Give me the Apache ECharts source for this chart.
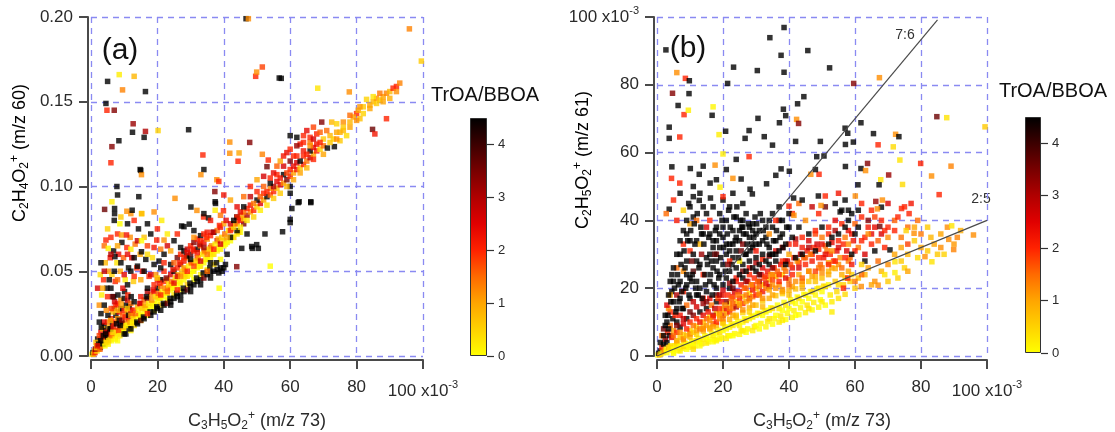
<!DOCTYPE html>
<html>
<head>
<meta charset="utf-8">
<title>TrOA/BBOA scatter</title>
<script src="https://cdn.jsdelivr.net/npm/echarts@6.0.0/dist/echarts.min.js"></script>
<style>
  html, body { margin: 0; padding: 0; background: #fff; }
  #chart { width: 1115px; height: 432px; }
</style>
</head>
<body>
<div id="chart"></div>
<script>
// points are [x (x10^-3), y, TrOA/BBOA]
// panel (a): C2H4O2+ vs C3H5O2+
const aOrigin = [
  [0.3,0.001,0.2],[0.6,0.002,4.5],[0.8,0.001,1],[1,0.003,0.1],[1.2,0.002,2],[1.5,0.004,4.5],[1.8,0.003,0.5],[2,0.005,1.5],
  [2.2,0.004,0],[2.5,0.006,3],[2.8,0.005,4.5],[3,0.008,1],[3.2,0.006,0.2],[3.5,0.009,2.2],[3.8,0.007,4.5],[4,0.010,0.8],
  [4.2,0.006,0],[4.5,0.012,2],[4.8,0.008,1.2],[5,0.011,4.5],[5.2,0.007,0.1],[5.5,0.014,3],[5.8,0.010,0.6],[6,0.013,1.8],
  [6.2,0.009,0],[2,0.010,4.5],[3,0.014,2.5],[4,0.018,4.5],[5,0.020,1.5],[6,0.022,2.2],[3.5,0.016,1],[4.5,0.015,4.5],
  [5.5,0.017,0.9],[6.5,0.019,4.5],[2.5,0.012,1.8],[1.5,0.008,0.7],
  [7,0.012,0],[7.5,0.015,1],[8,0.013,0.3],[8.5,0.017,2],[9,0.015,0.1],[9.5,0.019,4.5],[10,0.016,0.5],[10.5,0.020,1.4],
  [11,0.018,0],[11.5,0.022,2.6],[12,0.019,0.4],[7,0.020,2],[7.5,0.024,4.5],[8,0.022,1.2],[8.5,0.026,2.2],[9,0.028,4.5],
  [9.5,0.024,1.6],[10,0.027,2],[10.5,0.030,4.5],[11,0.026,1],[11.5,0.029,4.5],[12,0.027,2.4],[7,0.028,3.4],[8,0.031,2],
  [9,0.033,1.2],[10,0.034,4.5],[11,0.033,2.8],[12,0.031,1.5],[6.5,0.026,0.8],[7.5,0.030,2],[8.5,0.021,4.5],[9.5,0.014,0],
  [10.5,0.013,4.5],[11.5,0.016,4.5],[12,0.015,0.2],[6,0.016,4.5],[8,0.009,0]
];
const aOriginFill = [
  [1.3,0.004,3],[1.7,0.005,0.6],[2.3,0.007,4.5],[2.7,0.004,1.6],[3.3,0.011,2],[3.7,0.012,4.5],[4.3,0.008,0.3],
  [4.7,0.014,2.8],[5.3,0.009,0.5],[5.7,0.016,4.5],[6.3,0.012,1.4],[6.7,0.017,2.2],[7.3,0.010,0.1],[7.7,0.019,4.5],
  [8.3,0.015,1.8],[8.7,0.012,0.3],[9.3,0.021,3.4],[9.7,0.017,0.8],[10.3,0.023,2],[10.7,0.018,0.2],[11.3,0.024,4.5],
  [11.7,0.020,1],[3.9,0.020,2.5],[5.1,0.024,4.5],[6.1,0.028,1.8],[7.1,0.032,2.6],[8.1,0.036,4.5],[9.1,0.030,1],
  [10.1,0.038,4.5],[11.1,0.036,2],[12.1,0.035,4.5],[4.6,0.027,1.2],[6.8,0.035,4.5],[9.6,0.040,2.4],[7.9,0.027,0.8],
  [5.9,0.021,1],[3.1,0.017,4.5],[10.9,0.028,0.6],[12.4,0.024,2.2],[8.8,0.018,4.5],[6.6,0.014,0.4],[2.9,0.009,4.5],
  [1.9,0.006,2.4],[4.4,0.013,4.5]
];
const aSpray = [
  [2.5,0.030,1.2],[3.2,0.036,0.2],[3.8,0.045,2],[4.3,0.055,0.8],[4.8,0.040,4.5],[5.3,0.050,1.2],[5.8,0.058,2.2],
  [6.3,0.048,0.5],[6.8,0.062,4.5],[7.3,0.044,2],[7.8,0.055,0.3],[8.3,0.060,2.4],[8.8,0.050,1],[9.3,0.067,4.5],
  [9.8,0.058,1.6],[10.3,0.045,0.2],[10.8,0.064,2],[11.3,0.052,4.5],[11.8,0.070,1.2],[12.3,0.058,2.6],[12.8,0.044,0.6],
  [13.3,0.066,1.4],[13.8,0.052,2],[14.3,0.075,4.5],[14.8,0.060,1],[15.5,0.050,2.4],[16,0.070,0.7],[16.5,0.057,4.5],
  [17,0.065,1.8],[17.5,0.047,2],[18,0.072,4.5],[18.5,0.058,0.4],[19,0.064,2.2],[19.5,0.048,1.2],[20,0.075,2],
  [20.5,0.056,4.5],[21,0.063,1.4],[22,0.060,4.5],[23,0.065,2.6],[24,0.062,1],[25,0.068,4.5],[26,0.072,2],[3,0.055,4.5],
  [4,0.065,1.5],[5,0.075,0.5],[6,0.070,2],[7,0.080,4.5],[9,0.082,0.6],[11,0.078,4.5],[13,0.080,2],[17,0.078,4.5],
  [19,0.085,1.2],[23,0.072,0.2],[2,0.040,2.6],[2.8,0.048,0.4],[12,0.063,0.2],[14,0.068,2.8],[8,0.072,2]
];
const aYellowBand = [
  [12.5,0.020,0],[13,0.021,0.2],[14,0.023,0],[15,0.024,0.1],[16,0.026,0],[17,0.027,0.3],[18,0.029,0],[19,0.031,0.2],
  [20,0.032,0],[21,0.034,0.1],[22,0.035,0],[23,0.037,0.3],[24,0.039,0],[25,0.040,0.2],[26,0.042,0],[27,0.043,0.1],
  [28,0.045,0],[29,0.047,0.3],[30,0.048,0],[31,0.050,0.2],[32,0.052,0],[33,0.053,0.5],[34,0.055,0],[35,0.057,0.2],
  [36,0.058,0],[37,0.060,0.4],[38,0.062,0],[39,0.063,0.2],[40,0.065,0.1],[41,0.067,0.3],[42,0.068,0],[43,0.070,0.6],
  [44,0.072,0.2],[45,0.073,0],
  [13,0.018,0.4],[15,0.021,0],[17,0.024,0.2],[19,0.027,0],[21,0.030,0.5],[23,0.033,0],[25,0.036,0.3],[27,0.039,0],
  [29,0.042,0.6],[31,0.045,0],[33,0.048,0.2],[35,0.051,0],[37,0.054,0.4],[39,0.057,0],[16,0.029,0.7],[20,0.035,0.8],
  [24,0.042,0.6],[28,0.048,0.9],[32,0.055,0.7],[36,0.061,0.8],[40,0.068,0.6],
  [14.5,0.024,0],[18.5,0.030,0.1],[22.5,0.037,0],[26.5,0.044,0.1],[30.5,0.050,0],[34.5,0.057,0.1],[38.5,0.064,0],
  [42.5,0.070,0.2],[16.5,0.028,0.3],[20.5,0.034,0.2],[24.5,0.041,0],[28.5,0.047,0.3],[32.5,0.053,0.1],[36.5,0.060,0.2],
  [40.5,0.066,0],[44.5,0.073,0.4]
];
const aBandFill = [
  [12.7,0.022,0.4],[13.4,0.025,1.5],[13.8,0.020,4.5],[14.3,0.027,0.2],[14.7,0.031,2.6],[15.4,0.028,0.6],[15.8,0.023,4.5],
  [16.3,0.030,1],[16.7,0.035,4.5],[17.4,0.031,0.3],[17.8,0.026,4.5],[18.3,0.033,1.2],[18.7,0.039,2.4],[19.4,0.035,0.5],
  [19.8,0.029,4.5],[20.3,0.037,1.5],[20.7,0.043,2],[21.4,0.038,0.2],[21.8,0.031,4.5],[22.3,0.040,1.2],[22.7,0.046,3.4],
  [23.4,0.042,0.4],[23.8,0.034,4.5],[24.3,0.044,1.4],[24.7,0.051,2.2],[25.4,0.046,0.3],[25.8,0.037,4.5],[26.3,0.048,1],
  [26.7,0.055,2],[27.4,0.050,0.6],[27.8,0.040,4.5],[28.3,0.051,1.2],[28.7,0.059,4.5],[29.4,0.053,0.2],[29.8,0.043,4.5],
  [30.3,0.055,1.5],[30.7,0.063,2.2],[31.4,0.056,0.4],[31.8,0.046,4.5],[32.3,0.058,1],[32.7,0.066,3],[33.4,0.060,0.3],
  [33.8,0.049,4.5],[34.3,0.062,1.4],[34.7,0.070,2],[35.4,0.063,0.5],[35.8,0.052,4.5],[36.3,0.065,1.2],[36.7,0.073,2.6],
  [37.4,0.066,0.2],[37.8,0.055,4.5],[38.3,0.069,1],[38.7,0.077,2],[39.4,0.070,0.6],[40.3,0.072,1.5],[40.7,0.080,2.4],
  [41.4,0.074,0.3],[42.3,0.075,1.2],[43.4,0.078,0.7],[44.3,0.081,2],[45.4,0.083,1.2],
  [20,0.045,2.2],[22,0.050,2],[24,0.054,4.5],[26,0.047,2.6],[28,0.058,2],[30,0.057,4.5],[32,0.061,2.2],[34,0.064,3.2],
  [25,0.055,1.6],[29,0.061,2.4],[33,0.068,2],[27,0.064,4.5],[31,0.070,1.2],[35,0.073,2.2],[21,0.036,2],[23,0.038,1.6],
  [25,0.043,2.4],[27,0.047,1.2],[29,0.050,2],[31,0.053,1.8],[33,0.056,2.6],[35,0.060,1.4],[37,0.063,2],[39,0.066,2.6]
];
const aUpperBand = [
  [12,0.024,1.2],[13,0.027,2],[14,0.029,1],[15,0.031,2.4],[16,0.033,1.5],[17,0.034,3.5],[18,0.036,1.2],[19,0.038,2.2],
  [20,0.040,4.5],[21,0.041,1.4],[22,0.044,2],[23,0.045,1],[24,0.048,2.6],[25,0.050,4.5],[26,0.052,2],[27,0.054,3.2],
  [28,0.056,2.2],[29,0.058,1.3],[30,0.060,3.8],[31,0.062,2],[32,0.063,4.5],[33,0.065,1.6],[34,0.067,2.4],[35,0.069,1.2],
  [36,0.071,2],[37,0.073,4.5],[38,0.074,1.5],[39,0.076,2.2],[40,0.078,1],
  [26,0.058,3.6],[27,0.060,2],[28,0.062,4.5],[29,0.063,2.8],[30,0.065,2],[31,0.067,3.4],[32,0.069,2.2],[33,0.071,4.5],
  [34,0.072,2],[28,0.052,1],[30,0.055,1.6],[32,0.058,2],[34,0.061,1.2],[36,0.064,1.8],[38,0.068,2.5],[13,0.032,4.5],
  [15,0.035,2.2],[17,0.038,3],[19,0.042,2],[21,0.045,4.5],[23,0.040,1.8]
];
const aLowerBlack = [
  [10,0.013,4.5],[12,0.016,4.5],[14,0.019,4.5],[15,0.021,3.8],[16,0.022,4.5],[18,0.024,4.5],[19,0.026,4.5],[20,0.028,4.5],
  [21,0.027,4.5],[22,0.030,4.5],[23,0.031,3.6],[24,0.032,4.5],[25,0.034,4.5],[26,0.035,4.5],[27,0.036,4.5],[28,0.038,4.5],
  [29,0.039,3.8],[30,0.041,4.5],[31,0.042,4.5],[32,0.044,4.5],[33,0.045,4.5],[34,0.046,3.5],[35,0.048,4.5],[36,0.049,4.5],
  [37,0.050,4.5],[38,0.051,4.5],[39,0.052,4.5],[40,0.052,4.5],[38.5,0.049,4.5],[39.5,0.050,4.5],[40.5,0.054,4.5],
  [36,0.046,4.5],[33,0.042,4.5],[30,0.038,4.5],[27,0.033,4.5],[24,0.030,4.5],[17,0.025,2],[26,0.039,2],[35,0.050,1.5],
  [43.9,0.0527,3.4],[38.6,0.040,0],[54,0.053,0]
];
const aScatterLeft = [
  [3,0.025,4.5],[4,0.030,4.5],[5,0.035,2],[5.5,0.045,4.5],[6,0.040,4.5],[7,0.050,4.5],[7.2,0.0586,4.5],[8,0.045,1.5],
  [9,0.055,4.5],[10,0.048,2.5],[11,0.042,4.5],[12,0.050,4.5],[13,0.047,2],[14,0.053,4.5],[15,0.045,1],[16,0.050,4.5],
  [17,0.040,4.5],[18,0.048,2.6],[19,0.054,4.5],[20,0.046,0.5],[21,0.052,4.5],[22,0.055,2],[4.5,0.0684,2],[5.2,0.0635,0.1],
  [9.2,0.0714,1],[10.7,0.0714,2.2],[8.7,0.078,0],[15.2,0.0615,4.5],[15.2,0.068,0],[19.8,0.0684,2],[22,0.0684,1.2],
  [21.3,0.080,0.2],[15.2,0.084,0.3],[12,0.084,1.2],[6,0.060,3],[8,0.065,1],[11,0.060,2.4],[13,0.058,4.5],[17,0.060,0.4],
  [3.5,0.040,1],[4,0.050,2.8],[6.5,0.035,3.6],[2.5,0.020,4.5],
  [5,0.162,4.5],[8.5,0.166,0.2],[13,0.165,0.8],[9.5,0.157,1.3],[16.4,0.156,4.5],[4.5,0.149,4.5],[4.8,0.145,2],
  [7,0.145,3.4],[12.7,0.137,3.2],[12.5,0.132,4.5],[16.4,0.1325,3],[16,0.129,4.5],[20.2,0.133,0.5],[29.4,0.1335,4.5],
  [8.4,0.127,4.5],[6.3,0.1235,3.4],[6,0.114,2],[15,0.1095,4.5],[15.2,0.107,1.2],[7.8,0.100,4.5],[8,0.095,4.5],
  [6.3,0.091,0.2],[14.4,0.094,4.5],[4.1,0.0865,3.6],[7.1,0.087,4.5],[7.1,0.084,4.5],[10.8,0.0854,1.2],[12.4,0.086,4.5],
  [15.3,0.084,0.8],[14.8,0.110,4.5]
];
const aMidBand = [
  [27.3,0.0767,4.5],[29.6,0.0778,4.5],[31,0.074,4.5],[28,0.0763,4.5],[33.9,0.082,2],[35.4,0.0815,4.5],[37.4,0.086,0.2],
  [39.9,0.0857,2],[37.5,0.09,4.5],[37.9,0.104,1.2],[38.5,0.103,2],[43.9,0.082,4.5],[45.4,0.0635,4.5],[48.6,0.0635,4.5],
  [50.4,0.0635,4.5],[48.4,0.0646,4.5],[49.9,0.0657,4.5],[52.4,0.072,4.5],[57.7,0.0733,4.5],[60,0.0806,4.5],[60,0.0787,4.5],
  [62.4,0.0905,4.5],[66.2,0.0905,4.5],[60.5,0.087,4.5],[60,0.096,4.5],[60,0.100,4.5],[42,0.070,4.5],[44,0.074,4.5],
  [46,0.078,3.5],[47,0.072,4.5],[41,0.060,4.5],[36,0.055,4.5],
  [41,0.070,1],[42,0.074,2],[43,0.076,0.5],[44,0.078,1.5],[45,0.080,2.2],[46,0.081,0.8],[47,0.083,3],[48,0.085,1.2],
  [49,0.086,2],[50,0.088,0.4],[51,0.090,2.5],[52,0.092,1],[53,0.094,4.5],[54,0.095,1.6],[55,0.097,2],[56,0.099,0.7],
  [57,0.101,2.4],[58,0.102,1.2],[59,0.104,3.5],[60,0.106,2],[61,0.108,1],[62,0.110,2.2],[63,0.111,0.6],[64,0.113,2],
  [65,0.115,1.4],[66,0.117,2.8],[67,0.119,1],[68,0.121,2],[69,0.122,0.5],[70,0.124,1.5],
  [42,0.078,2.6],[44,0.082,2],[46,0.085,1.4],[48,0.089,2.2],[50,0.092,4.5],[52,0.096,2],[54,0.099,1.2],[56,0.103,2.4],
  [58,0.107,4.5],[60,0.110,2],[62,0.114,2.6],[64,0.118,2],[66,0.121,4.5],[68,0.125,2.2],[45,0.076,0.2],[49,0.082,0.5],
  [53,0.089,0.3],[57,0.096,0.6],[61,0.104,1],[65,0.111,0.8],[43,0.080,4.5],[47,0.087,2],[51,0.094,1.6],[55,0.100,3],
  [59,0.108,1.8],[63,0.115,4.5],[67,0.116,2],
  [45,0.085,2.4],[47,0.080,0.3],[49,0.090,1.4],[51,0.086,0.2],[53,0.097,2],[55,0.093,0.6],[57,0.105,2.2],[59,0.100,0.8],
  [61,0.112,2.4],[63,0.108,1],[65,0.119,2],[67,0.123,2.4],[46,0.088,4.5],[50,0.097,2],[54,0.102,4.5],[58,0.112,2.6],
  [62,0.118,2],[48,0.094,2.8],[52,0.100,1.6],[56,0.107,2],[60,0.115,3.4],[64,0.121,2.2],[66,0.126,1.4],
  [33.7,0.1186,2],[37.3,0.097,3.4],[37.4,0.091,4.5],[41.8,0.1262,1.2],[41.8,0.1196,1.2],[44.3,0.1149,2],[44.6,0.1198,1],
  [47.8,0.126,3.4],[51.6,0.119,1.3],[53,0.1117,3.6],[53.4,0.1156,2],[34,0.110,4.5],[33.1,0.107,1.2],[25.3,0.093,1.2],
  [30.1,0.0879,4.5],[31.9,0.0859,1.2],[34,0.084,4.5],[40,0.095,2.2],[42,0.092,1],[44,0.088,2.4],[46,0.094,1.5],
  [48,0.100,2],[50,0.104,1],[52,0.106,2.6],[55,0.108,2.4],[39,0.083,1.4],[36,0.080,2.2]
];
const aUpperRight = [
  [71.2,0.1227,4.5],[73.3,0.1235,4.5],[72,0.130,0.8],[73,0.128,0.5],[74,0.132,1],[75,0.127,0.6],[76,0.133,0.8],
  [77,0.130,0.4],[78,0.135,1],[72.5,0.138,0.8],[69.5,0.138,3.4],[64,0.130,2],[65,0.133,2.4],[66,0.129,2],[67,0.135,1.8],
  [60,0.130,4.5],[62,0.129,4.5],[80,0.143,2],[80.5,0.145,1],[83,0.1514,0.5],[84,0.148,1],[85,0.150,0.8],[86,0.152,1.2],
  [87,0.151,0.6],[88,0.153,1],[89,0.155,1.3],[90,0.156,0.8],[91,0.158,2],[92,0.159,2],[82,0.147,0.6],[79,0.141,1],
  [81,0.140,0.7],[76,0.138,1.2],[74,0.137,0.5],[89,0.140,2],[84.8,0.1337,3.6],[85.5,0.131,2.2],[70,0.128,0.6],
  [71,0.133,1.5],[63,0.125,2.2],[61,0.118,2],[66,0.124,1.2],[62.7,0.091,4.5],[66.2,0.091,4.5],[57,0.115,1],
  [59,0.120,2.4],[54,0.105,2],[56,0.112,1.6],[58,0.118,2.2],[60,0.122,2],[62,0.124,3.2],[64,0.126,2],[67,0.128,2.6],
  [68,0.131,2],[69,0.132,1.6],
  [69,0.126,2],[70,0.119,1],[72,0.126,0.6],[74,0.128,1.2],[76,0.135,0.6],[78,0.138,0.8],[80,0.139,1.2],[82,0.143,0.5],
  [84,0.146,1],[86,0.149,0.6],[88,0.150,1],[90,0.152,0.9],[92,0.156,1.2],[93,0.161,1.3],[87,0.155,1.4],[85,0.153,0.3],
  [81,0.147,1.1],[78,0.142,1.5],[75,0.132,0.9]
];
const aOutliers = [
  [46.7,0.199,4.5],[47.4,0.199,1.2],[49.6,0.165,2],[49.9,0.1675,1.2],[51.6,0.1705,1.8],[56.7,0.164,4.5],
  [57.3,0.1638,4.5],[68.3,0.158,0.3],[77.8,0.1558,1.2],[95.9,0.193,1.3],[99.5,0.174,0.6]
];

// panel (b): C2H5O2+ vs C3H5O2+ (both x10^-3)
const bOrigin = [
  [0.3,0.3,0],[0.5,0.8,4.5],[0.8,0.4,1],[1,1.5,4.5],[1.2,0.6,0.2],[1.5,2.5,2],[1.8,1,0.5],[2,3.5,4.5],[2.2,1.5,1.2],
  [2.5,5,3],[2.8,2,0],[3,4,4.5],[3.2,7,2],[3.5,2.5,0.8],[3.8,6,4.5],[4,9,1.5],[4.2,3,0.3],[4.5,5.5,2.4],[4.8,11,4.5],
  [5,7.5,1],[1,4,4.5],[2,8,3.6],[3,10,4.5],[4,13,2],[5,16,4.5],[3.5,14,1.2],[2.5,12,4.5],[1.5,6,1.5],[4.5,19,4.5],
  [5.5,12,2],[6,18,3],[4,18,1],[3,15,2.5]
];
const bYellow = [
  [3,1,0],[4,1.8,0.1],[5,1.2,0],[5.5,3,0.3],[6.5,1.6,0],[7.5,2.2,0.1],[8.5,3.8,0],[9.5,2.6,0.2],[10.5,4.4,0],[11.5,3,0.1],
  [12.5,5.2,0],[13.5,3.6,0.3],[14.5,6,0],[15.5,4.2,0.1],[16.5,6.8,0],[17.5,4.8,0.2],[18.5,7.6,0],[19.5,5.4,0.1],
  [20.5,8.6,0],[21.5,6,0.3],[22.5,9.4,0],[23.5,6.6,0.1],[24.5,10.2,0],[25.5,7.4,0.2],[26.5,11,0],[27.5,8,0.1],
  [28.5,11.8,0],[29.5,8.6,0.3],[30.5,12.6,0],[31.5,9.6,0.1],[32.5,13.4,0],[33.5,10.2,0.2],[34.5,14.2,0],[35.5,11,0.1],
  [36.5,15,0],[37.5,11.8,0.3],[38.5,15.8,0],[39.5,12.6,0.1],[40.5,16.6,0],[41.5,13.4,0.2],[42.5,17.4,0],[43.5,14.2,0.1],
  [44.5,18.2,0],[45.5,15,0.3],[46.5,19,0],[47.5,15.8,0.2],[48.5,19.8,0.1],[49.5,16.6,0],[50.5,20.6,0.3],[52.5,18,0.2],
  [54.5,19,0.4],[56.5,21,0.5],[58.5,22,0.6],[61,23,0.7],[63,24,0.8],[60,20,0.6],
  [6,3.8,0.7],[8,4.6,0.6],[10,5.6,0.8],[12,6.4,0.5],[14,7.4,0.9],[16,8.4,0.6],[18,9,0.8],[20,9.6,0.6],[22,10.8,0.9],
  [24,12,0.7],[26,12.8,0.5],[28,14.2,0.9],[30,15,0.7],[32,16.2,0.6],[34,17,0.9],[36,17.8,0.7],[38,18.4,0.5],[40,19.4,0.9],
  [42,19.8,0.7],[44,21.2,0.8],[46,22,0.6],[48,23.4,0.9],[50,23,0.7],[52,25,0.8],[54,25.8,1],[56,24,0.9],
  [5,0.8,0],[7,1.5,0.2],[9,2,0],[11,2.8,0.1],[13,3,0],[15,3.8,0.2],[17,4.2,0],[19,5,0.1],[21,5.2,0.2],[23,6,0],
  [25,6.4,0.1],[27,7,0],[29,7.5,0.2],[31,8,0],[33,8.6,0.1],[35,9.4,0],[37,10,0.2],[39,10.8,0],[41,11.4,0.1],[43,12.2,0],
  [45,12.8,0.2],[47,13.6,0],[49,14.4,0.1],[51,15,0],[53,16,0.2],[55,17,0.3],[57,18.2,0.4],[4,2.6,0.4],[6,4,0.3],
  [8,6.3,0.5],[10,7.5,0.4],[12,8.8,0.5],[14,10,0.6],[16,11.5,0.4],[18,12.5,0.6],[20,13.6,0.5],[22,15.5,0.6],[24,16,0.5],
  [26,17.5,0.6],[28,18.5,0.4],[30,20,0.6],[32,21,0.5],[34,22.5,0.6],[36,23.5,0.5],[38,24,0.4]
];
const bLow = [
  [5,2,0],[6,2.5,0.2],[7,3,0],[8,2.8,0.4],[9,3.5,0],[10,3.2,0.1],[11,4,0],[12,4.5,0.3],[13,4.2,0],[14,5,0.2],[15,5.5,0],
  [6,4.5,1],[7,5.5,0.6],[8,5,1.3],[9,6,0.8],[10,6.5,1.2],[11,7,0.6],[12,7.5,1],[13,8,1.4],[14,8.5,0.9],[15,9,1.1],
  [6,7,2],[7,8.5,4.5],[8,9.5,2.5],[9,11,4.5],[10,10,2],[11,12,3.4],[12,11,2],[13,13,4.5],[14,12,2.4],[15,14,4.5],
  [6,10,4.5],[7,12,2.2],[8,14,4.5],[9,15,1.5],[10,17,4.5],[11,16,2.8],[12,18,4.5],[13,20,4.5],[14,17,2],[15,19,4.5],
  [6,14,4.5],[7,17,4.5],[8,19,2],[9,21,4.5],[10,23,4.5],[11,25,3.8],[12,22,4.5],[13,27,4.5],[14,24,2],[15,29,4.5],
  [7,22,4.5],[8,25,1.2],[9,28,4.5],[10,31,2],[11,30,4.5],[12,34,4.5],[13,33,0.8],[14,36,4.5],[15,38,2.6],[5,22,4.5],
  [6,26,1.5],[7,30,4.5],[8,33,2],[9,36,4.5],[10,39,1],[11,41,4.5]
];
const bBand = [
  [16,5,0],[17,6,0.2],[18,6.5,0],[19,7,0.4],[20,7.5,0],[21,8,0.1],[22,8.5,0],[23,9,0.3],[24,9.5,0],[25,9,0.2],[26,10,0],
  [27,10.5,0.5],[28,11,0],[29,11.5,0.2],[30,12,0],[31,12.5,0.3],[32,12,0],[33,13,0.1],[34,13.5,0],[35,14,0.4],
  [18,4.5,0.1],[22,6,0],[26,7.5,0.2],[30,9,0],[34,11,0.3],[20,10,0.6],[24,11.5,0.7],[28,13,0.5],[32,14.5,0.8],[11,2,0.4],
  [16,8,1],[17,9.5,1.6],[18,10,2],[19,11,1.2],[20,12,2.4],[21,12.5,1],[22,13,2],[23,14,1.5],[24,14.5,3],[25,15,1.2],
  [26,15.5,2],[27,16,1],[28,17,2.6],[29,17.5,1.4],[30,18,2],[31,18.5,1],[32,19,2.2],[33,20,1.5],[34,20.5,2.8],[35,21,1.2],
  [17,12,2.8],[19,14,2],[21,16,3.4],[23,17.5,2],[25,19,2.4],[27,20,1.6],[29,21,2],[31,22,3],[33,23.5,2],[35,24,1.4],
  [18,16,4.5],[20,18,2],[22,20,4.5],[24,22,2.2],[26,23,4.5],[28,24,2],[30,25,4.5],[32,26,2.6],[34,27,4.5]
];
const bRedLayer = [
  [5,6,1.5],[7,7,1.2],[9,8,2],[11,9,1.4],[13,10,2.2],[15,11,1.6],[17,11.5,2],[19,12.5,1.3],[21,14,2.4],[23,15.5,1.6],
  [25,17,2],[27,18,1.4],[29,19.5,2.2],[31,20.5,1.6],[33,21.5,2.4],[35,22.5,1.8],[37,24,2],[39,25,1.5],[41,26,2.4],
  [43,27.5,2],[45,29,1.6],[47,30,2.2],[49,31.5,2],[51,32.5,1.6],[53,33.5,2.4],[55,34,2],[57,35,1.4],[59,36,2.2],
  [6,9,3.4],[8,11,2.8],[10,13,3.6],[12,14.5,2.6],[14,15.5,3.2],[16,17,2.4],[18,18,3.8],[20,19.5,2.6],[22,21.5,3.2],
  [24,23,2.2],[26,25,3.6],[28,26,2.4],[30,27.5,3],[32,28.5,2],[34,29.5,3.4],[36,31,2.4],[38,32,2.8],[40,33,2],[42,34.5,3],
  [44,32,2.2],[46,34,2.6],[48,36,1.8],[50,33,2.4],[52,36,2],[54,37,3],[56,39,2],[58,37,2.4],[60,39,1.6],[62,41,2],
  [64,38,2.2],[66,41,1.8],[68,36,2.6],[70,38,2],[72,40,1.6],[74,35,1.4],[76,33,1.8],[78,38,1],[80,36,1.4],[83,35,0.8],
  [86,36,1],[88,38,1.2],[92,37,0.9],
  [15.5,13,2.2],[16.5,15,1.4],[17.5,14,2.8],[18.5,17,1.8],[19.5,16,2.4],[20.5,15,1.2],[21.5,18,2],[22.5,17,1.6],
  [23.5,19,2.6],[24.5,18,1.4],[25.5,21,2.2],[26.5,20,1.6],[27.5,22,2.4],[28.5,21,1.2],[29.5,23,2],[30.5,22,1.6],
  [31.5,24,2.6],[32.5,23,1.8],[33.5,25,2.2],[34.5,24,1.2],[35.5,26,2],[36.5,25,1.6],[37.5,27,2.4],[38.5,26,1.4],
  [39.5,28,2.2],[40.5,27,1.8],[41.5,29,2],[42.5,28,1.2],[43.5,30,2.6],[44.5,29,1.6],[45.5,31,2.2],[46.5,30,1.4],
  [47.5,32,2],[48.5,33,2.6],[49.5,27,1.6],[50.5,29,2.2],[51.5,31,1.4],[52.5,30,2],[53.5,28,1.8],[54.5,31,2.4],
  [55.5,29,1.2],[56.5,33,2],[57.5,31,2.6],[58.5,29,1.6],[59.5,34,2.2],[61,32,1.4],[63,35,2],[65,36,2.4],[67,34,1.6],
  [69,37,2],
  [16,10.5,1.2],[19,12,1],[22,14,1.4],[25,15.5,1],[28,16.5,1.2],[31,18,1.4],[34,19.5,1],[37,21,1.2],[40,22.5,1.4],
  [43,24,1],[46,25,1.2],[49,26,1.4],[52,27.5,1],[55,27,1.2],[58,28,1.4],[14,8,1.2],[17,8.6,1],[20,11,1.3],[23,12,0.9],
  [26,13.6,1.2],[29,15,1],[32,17,1.2],[35,18,1],[38,19.6,1.2],[41,20.5,1],[44,22,1.2],[47,23.5,1],[50,24.5,1.2],[53,26,1]
];
const bCloud = [
  [16,22,4.5],[16,30,4.5],[17,26,4.5],[17,34,4.5],[18,20,4.5],[18,28,4.5],[18,38,4.5],[19,24,4.5],[19,32,4.5],[19,42,4.5],
  [20,21,4.5],[20,27,4.5],[20,35,4.5],[21,23,4.5],[21,30,4.5],[21,40,4.5],[22,25,4.5],[22,33,4.5],[22,44,4.5],[23,22,4.5],
  [23,29,4.5],[23,37,4.5],[24,26,4.5],[24,31,4.5],[24,41,4.5],[25,24,4.5],[25,34,4.5],[26,27,4.5],[26,38,4.5],[27,25,4.5],
  [27,30,4.5],[27,42,4.5],[28,28,4.5],[28,35,4.5],[29,26,4.5],[29,32,4.5],[29,39,4.5],[30,29,4.5],[30,36,4.5],[31,27,4.5],
  [31,33,4.5],[32,30,4.5],[32,40,4.5],[33,28,4.5],[33,35,4.5],[34,32,4.5],[35,30,4.5],[35,38,4.5],[36,34,4.5],[37,31,4.5],
  [38,36,4.5],[39,33,4.5],[40,38,4.5],[17,44,4.5],[20,46,4.5],[23,48,4.5],[26,45,4.5],[14,44,4.5],[16,40,2],[12,28,4.5],
  [12,40,1.5],[10,34,4.5],[18,30,3.6],[22,28,2],[26,33,3.4],[30,31,2.2],[34,36,1.2],[25,28,0.2],
  [3.7,43.3,4.5],[9.6,45,4.5],[12.8,45.9,4.5],[16.2,46.6,4.5],[11,50,4.5],[7,48,4.5],[5,46,2],[18,52,4.5],[14,56,4.5],
  [21,55,4.5],[24,58,4.5],[2.8,42,1.5],[6,40,2.2],[20,47,2],[8,43,0.5],
  [3.3,12,4.5],[4.2,16,4.5],[5.3,20,4.5],[6.2,24,4.5],[7.3,27,4.5],[8.2,31,4.5],[9.3,34,4.5],[10.2,37,4.5],[11.3,39,4.5],
  [12.2,42,4.5],[13.3,38,4.5],[14.2,33,4.5],[15.3,27,4.5],[16.2,24,4.5],[17.3,21,4.5],[18.2,25,4.5],[19.3,29,4.5],
  [20.2,32,4.5],[21.3,36,4.5],[22.2,38,4.5],[23.3,41,4.5],[24.2,44,4.5],[25.3,40,4.5],[26.2,36,4.5],[27.3,33,4.5],
  [28.2,31,4.5],[29.3,35,4.5],[30.2,39,4.5],[31.3,42,4.5],[32.2,37,4.5],[33.3,33,4.5],[34.2,30,4.5],[35.3,34,4.5],
  [36.2,37,4.5],[37.3,35,4.5],[38.2,32,4.5],[39.3,38,4.5],[6.7,16,4.5],[8.7,20,4.5],[10.7,24,4.5],[12.7,26,4.5],
  [14.7,21,4.5],[16.7,18,4.5],[18.7,23,4.5],[20.7,25,4.5],[22.7,27,4.5],[24.7,29,4.5],[26.7,30,4.5],[28.7,33,4.5],
  [11.7,20,4.5],[13.7,17,4.5],[9.7,18,4.5],[7.7,14,4.5],[5.7,13,4.5],[15.7,35,4.5],[17.7,37,4.5],[19.7,40,4.5],
  [21.7,43,4.5],[23.7,34,4.5],[25.7,38,4.5],[27.7,39,4.5],[29.7,41,4.5],[10.5,28,3.6],[13.5,30,3.2],[17.5,30,3.8],
  [21.5,27,3.4],[25.5,31,3.6],[15,16,3.4],[19,18,3],[23,20,3.6],[27,22,3.2],[31,24,3.8],[35,26,3.4],[39,28,3],
  [4,22,4.5],[5,26,4.5],[6,30,4.5],[7,34,4.5],[8,37,4.5],[9,40,4.5],[10,44,4.5],[11,47,4.5],[13,48,4.5],[15,42,4.5],
  [16,36,4.5],[17,32,4.5],[18,34,4.5],[19,36,4.5],[20,38,4.5],[21,33,4.5],[22,31,4.5],[23,33,4.5],[24,35,4.5],
  [25,37,4.5],[26,40,4.5],[27,36,4.5],[28,38,4.5],[29,37,4.5],[30,33,4.5],[31,37,4.5],[32,34,4.5],[33,38,4.5],
  [34,40,4.5],[35,42,4.5],[36,30,4.5],[37,40,4.5],[8.5,26,4.5],[10.5,22,4.5],[12.5,18,4.5],[14.5,24,4.5],[16.5,28,4.5],
  [7.5,19,4.5],[6.5,21,4.5],[9,24,4.5],[11.5,33,4.5],[13.5,36,4.5],[3.5,18,4.5],[4.5,24,4.5],[2.5,9,4.5],[3.5,8,4.5],
  [2,6,4.5]
];
const bMid = [
  [36,12,0],[37,14,0.2],[38,13.5,0],[39,15,0.3],[40,14,0],[41,16,0.2],[42,15.5,0],[43,17,0.4],[44,16,0],[45,18,0.2],
  [46,17,0],[47,19,0.5],[48,18,0.1],[49,20,0.3],[50,19,0],[51,20.5,0.4],[52,21,0.1],[53,13,0.2],[54,22,0.6],[55,21,0.4],
  [57,23,0.6],[59,24,0.5],[38,10.5,0.2],[42,12,0],[46,14,0.3],[50,16,0.2],[40,18,0.7],[44,20,0.8],[48,22,0.7],[52,24,0.9],
  [36,20,1.2],[37,22,2],[38,19,1],[39,23,2.4],[40,21,1.5],[41,24,2],[42,22,1.2],[43,26,2.6],[44,23,1.6],[45,27,2],
  [46,25,1.2],[47,28,2.2],[48,25,1.8],[49,29,2],[50,26,1.4],[51,30,2.4],[52,27,2],[53,31,1.2],[54,28,2],[55,32,2.6],
  [56,26,1.5],[57,29,2],[58,33,1.2],[59,27,2.2],[60,31,2],[56.5,20,2],[57.8,23,2],[61.9,20.5,1.2],[38,28,2],[40,30,1],
  [42,33,2.2],[44,35,2],[46,32,3],[48,37,2],[50,35,1.4],[52,38,2],[54,40,2.4],[45,40,1.2],[41,42,2],[43,45,1.5],
  [47,44,2.8],[49,42,2],[36,40,2],
  [36,28,4.5],[37,44,4.5],[38,40,4.5],[39,27,4.5],[40,42,4.5],[41,35,4.5],[42,29,4.5],[43,38,4.5],[44,30,4.5],[46,36,4.5],
  [48,31,4.5],[50,38,4.5],[52,33,4.5],[53,35,4.5],[55,36,4.5],[57,38,4.5],[59,30,4.5],[58,40,4.5],[51,44,3.6],[54,45,4.5],
  [44,46,4.5],[40.1,54.5,4.5]
];
const bRight = [
  [62,34,2],[64,36,1.2],[66,38,2.4],[68,40,2],[63,30,2.6],[65,33,2],[67,28,1.5],[69,32,2],[70,35,1.2],[62,24,1.5],
  [64,26,1],[66,22,1.2],[68,25,0.8],[70,27,1.2],[61,38,4.5],[64,40,3.4],[67.5,38.2,3.6],[68,43.9,4.5],[70.6,31.3,4.5],
  [63,28,4.5],[66,31,4.5],[60,36,4.5],[72,30,1],[72.1,27.8,0.3],[72.1,24.6,0.2],[74,28,0.6],[74,32,1],[75,26,0.5],
  [76,30,0.8],[77.9,36.2,1.2],[78,34,0.6],[79,29,0.4],[80,32,1],[81.2,29.3,1.2],[82,31,0.6],[83.3,27.8,0.3],[84,33,1],
  [85,30,0.6],[86,32,1.2],[87,30,0.5],[88.4,34.4,1.2],[89.9,31.4,1.3],[89.3,38.4,0.3],[90,33,1.1],[91,35,1.3],
  [95.9,35.7,1.2],[67,20.9,1.2],[65,21,1],[70,22,0.6],[69,24,0.3],[73,23,0.5],[76,25,1],[60,22,1.4],[58,25,1],[62,27,0.5],
  [76,38,1.5],[72,37,2],[75,44,2],[77,45,2.2],[68.3,46,1.2],[73,41,2],[79,40,1.5],[82,38,0.6],[75.5,37,0.5],[70,45,2.6],
  [65,43,2],[62,45,2],[59,42,4.5],[56,43,4.5],[61,43,4.5],[55,48,2.2],[57,46,4.5]
];
const bOutliers = [
  [2.7,90.3,4.5],[6,83.6,1.2],[8.6,81.9,2],[9.8,81.2,4.5],[4.7,77.5,3.4],[9.7,77.4,4.5],[6.4,73.9,4.5],[8.2,71.2,2],
  [9.5,72.5,0.2],[3.7,67.5,4.5],[3.7,64.2,4.5],[6.9,64.6,2],[16.7,71,4.5],[17,73.5,0.1],[18.8,65.3,0.2],[20.8,66.3,4.5],
  [21.4,80.4,4.5],[23.2,85.2,4.5],[30.4,84.2,4.5],[34.2,93.9,4.5],[38.5,96.9,4.5],[37.6,88.7,4.5],[38.5,83.7,4.5],
  [45.7,90.1,4.5],[52.3,85,4.5],[44.5,76.5,4.5],[42.6,74.4,4.5],[42.3,69.8,1.2],[42.9,68.6,3.4],[38.3,72.8,4.5],
  [39,70.9,4.5],[37.1,68.8,4.5],[42,63.3,4.5],[30.6,70.1,4.5],[27.9,66.5,4.5],[26.7,64.2,4.5],[32.5,64.7,4.5],
  [35,62.2,4.5],[27.9,58.8,2],[20,59.6,0.2],[17.6,56.3,1.2],[4.5,55.8,4.5],[10.1,55.3,4.5],[4.4,52.4,2],[6.9,51,2],
  [12.8,53.6,4.5],[16.1,51,4.5],[19.1,49.8,0.2],[23,52.4,1.2],[25.5,52.2,4.5],[28.2,49.2,4.5],[28.9,47.8,4.5],
  [33.2,50.8,4.5],[36,53.3,4.5],[37.6,55.2,4.5],[41.4,46.6,4.5],[48.4,58.8,4.5],[50.6,59,4.5],[46.6,53.6,1.2],
  [49.1,53.6,2],[48,55,4.5],[49.5,63.3,4.5],[51,47.2,2],[48.9,47.2,4.5],[49.7,44.4,1.2],[40,44.2,2],[41.5,41.5,1.2],
  [59.6,80.4,3.4],[67.4,82.1,1.2],[57,67.2,4.5],[57.8,65.7,4.5],[61.8,68.8,4.5],[57.1,62.4,4.5],[59.5,63.1,4.5],
  [65.6,65.6,4.5],[72.3,65.4,1.2],[73.3,64.7,4.5],[67,62.3,2],[71.6,61.7,0.4],[84.8,70.6,3.6],[87.8,70.3,0.3],
  [99.4,67.6,0.6],[73.6,57.8,0.3],[79.9,56.8,2],[89.1,56,1.3],[83.2,53.1,1.2],[85.5,47.6,2],[57.1,55.9,4.5],
  [61.8,55.3,4.5],[63.2,54.7,1.2],[63.8,56.8,3.4],[70.2,53.4,3.2],[67.8,52,0.3],[67.3,50.5,4.5],[74.4,50.6,0.4],
  [60.9,50.5,4.5],[60.1,47.2,1.2],[66.3,45.6,3.2],[66.8,43.4,1.2],[74.1,43.5,2],[76.4,42,2],[55.5,42.5,4.5],[58,43,4.5]
];

// ratio lines drawn in panel (b): y = slope * x
const ratioLines = [
  { name: '7:6', slope: 7 / 6, from: 20, to: 85 },
  { name: '2:5', slope: 2 / 5, from: 0, to: 100 }
];
const colorTicks = [0, 1, 2, 3, 4];
const ratioMax = 4.5;
const heatColors = ['#ffff00', '#ffd200', '#ffa500', '#ff6a00', '#ff2200', '#e00000',
                    '#b00000', '#780000', '#3c0000', '#000000'];

const aData = [].concat(aOrigin, aOriginFill, aSpray, aYellowBand, aUpperBand, aBandFill, aLowerBlack,
                        aScatterLeft, aMidBand, aUpperRight, aOutliers);
const bData = [].concat(bOrigin, bYellow, bLow, bBand, bRedLayer, bCloud, bMid, bRight, bOutliers);

const FONT = '"Liberation Sans", Arial, sans-serif';
const TXT = '#2a2a2a';
const AXIS = '#4a4a4a';
const GRIDLINE = '#8a8af2';

const titleRich = {
  n: { fontSize: 18, lineHeight: 22, fontFamily: FONT, color: TXT },
  b: { fontSize: 12, lineHeight: 12, verticalAlign: 'bottom', fontFamily: FONT, color: TXT },
  p: { fontSize: 12, lineHeight: 12, verticalAlign: 'top', fontFamily: FONT, color: TXT }
};
const labelRich = {
  n: { fontSize: 17, lineHeight: 24, fontFamily: FONT, color: TXT },
  e: { fontSize: 11, lineHeight: 11, verticalAlign: 'top', fontFamily: FONT, color: TXT }
};
const xTitle = '{n|C}{b|3}{n|H}{b|5}{n|O}{b|2}{p|+}{n| (m/z 73)}';

function valueAxis(gridIndex, max, interval, offset, fmt, margin) {
  return {
    type: 'value', gridIndex, min: 0, max, interval, offset,
    axisLine: { show: true, onZero: false, lineStyle: { color: AXIS, width: 2 } },
    axisTick: { show: true, inside: false, length: 9, lineStyle: { color: AXIS, width: 2 } },
    axisLabel: { fontSize: 17, fontFamily: FONT, color: TXT, margin, formatter: fmt, rich: labelRich },
    splitLine: { show: true, lineStyle: { color: GRIDLINE, type: [6, 5], width: 1.3 } }
  };
}
const sci100 = v => (v === 100 ? '{n|100 x10}{e|-3}' : String(v));

function colorbarY(gridIndex) {
  return {
    type: 'value', gridIndex, min: 0, max: ratioMax, position: 'right',
    axisLine: { show: false },
    axisTick: { show: true, length: 7, customValues: colorTicks, lineStyle: { color: '#333', width: 1.2 } },
    axisLabel: { customValues: colorTicks, fontSize: 13, fontFamily: FONT, color: TXT, margin: 11 },
    splitLine: { show: false }
  };
}

const gradStops = heatColors.map((c, i) => ({ offset: i / (heatColors.length - 1), color: c }));
const barGradient = new echarts.graphic.LinearGradient(0, 1, 0, 0, gradStops);

const chart = echarts.init(document.getElementById('chart'));

const option = {
  backgroundColor: '#fff',
  animation: false,
  grid: [
    { left: 91, top: 17, width: 332, height: 339, outerBoundsMode: 'none' },
    { left: 657, top: 17, width: 330, height: 339, outerBoundsMode: 'none' },
    { left: 470, top: 118, width: 17, height: 238, outerBoundsMode: 'none' },
    { left: 1025, top: 117, width: 16, height: 236, outerBoundsMode: 'none' }
  ],
  xAxis: [
    Object.assign(valueAxis(0, 100, 20, 4, sci100, 19),
      { name: xTitle, nameLocation: 'middle', nameGap: 50, nameTextStyle: { rich: titleRich } }),
    Object.assign(valueAxis(1, 100, 20, 4, sci100, 19),
      { name: xTitle, nameLocation: 'middle', nameGap: 50, nameTextStyle: { rich: titleRich } }),
    { type: 'category', gridIndex: 2, data: ['r'], show: false },
    { type: 'category', gridIndex: 3, data: ['r'], show: false }
  ],
  yAxis: [
    valueAxis(0, 0.2, 0.05, 3, v => v.toFixed(2), 15),
    valueAxis(1, 100, 20, 3, sci100, 15),
    colorbarY(2),
    colorbarY(3)
  ],
  visualMap: {
    type: 'continuous', show: false, dimension: 2, min: 0, max: ratioMax,
    seriesIndex: [0, 1], inRange: { color: heatColors }
  },
  series: [
    { type: 'scatter', xAxisIndex: 0, yAxisIndex: 0, data: aData, symbol: 'rect', symbolSize: 5.5, silent: true },
    { type: 'scatter', xAxisIndex: 1, yAxisIndex: 1, data: bData, symbol: 'rect', symbolSize: 5.5, silent: true }
  ].concat(ratioLines.map(r => ({
    type: 'line', xAxisIndex: 1, yAxisIndex: 1, symbol: 'none', silent: true, z: 5,
    data: [[r.from, r.slope * r.from], [r.to, r.slope * r.to]],
    lineStyle: { color: '#4a4a4a', width: 1.2 }
  }))).concat([2, 3].map(i => ({
    type: 'bar', xAxisIndex: i, yAxisIndex: i, data: [ratioMax], barWidth: '100%', silent: true,
    itemStyle: { color: barGradient, borderColor: '#333', borderWidth: 1 }
  }))),
  graphic: [
    { type: 'text', x: 120, y: 51, style: { text: '(a)', font: '30px ' + FONT, fill: '#111', align: 'center', verticalAlign: 'middle' } },
    { type: 'text', x: 688, y: 49, style: { text: '(b)', font: '30px ' + FONT, fill: '#111', align: 'center', verticalAlign: 'middle' } },
    { type: 'text', x: 485, y: 95, style: { text: 'TrOA/BBOA', font: '20px ' + FONT, fill: '#111', align: 'center', verticalAlign: 'middle' } },
    { type: 'text', x: 1053, y: 91, style: { text: 'TrOA/BBOA', font: '20px ' + FONT, fill: '#111', align: 'center', verticalAlign: 'middle' } },
    { type: 'text', x: 905, y: 35, style: { text: ratioLines[0].name, font: '14px ' + FONT, fill: '#333', align: 'center', verticalAlign: 'middle' } },
    { type: 'text', x: 981, y: 199, style: { text: ratioLines[1].name, font: '14px ' + FONT, fill: '#333', align: 'center', verticalAlign: 'middle' } },
    { type: 'text', x: 20, y: 153, rotation: Math.PI / 2,
      style: { text: '{n|C}{b|2}{n|H}{b|4}{n|O}{b|2}{p|+}{n| (m/z 60)}', rich: titleRich, align: 'center', verticalAlign: 'middle' } },
    { type: 'text', x: 583, y: 160, rotation: Math.PI / 2,
      style: { text: '{n|C}{b|2}{n|H}{b|5}{n|O}{b|2}{p|+}{n| (m/z 61)}', rich: titleRich, align: 'center', verticalAlign: 'middle' } }
  ]
};

chart.setOption(option);
</script>
</body>
</html>
